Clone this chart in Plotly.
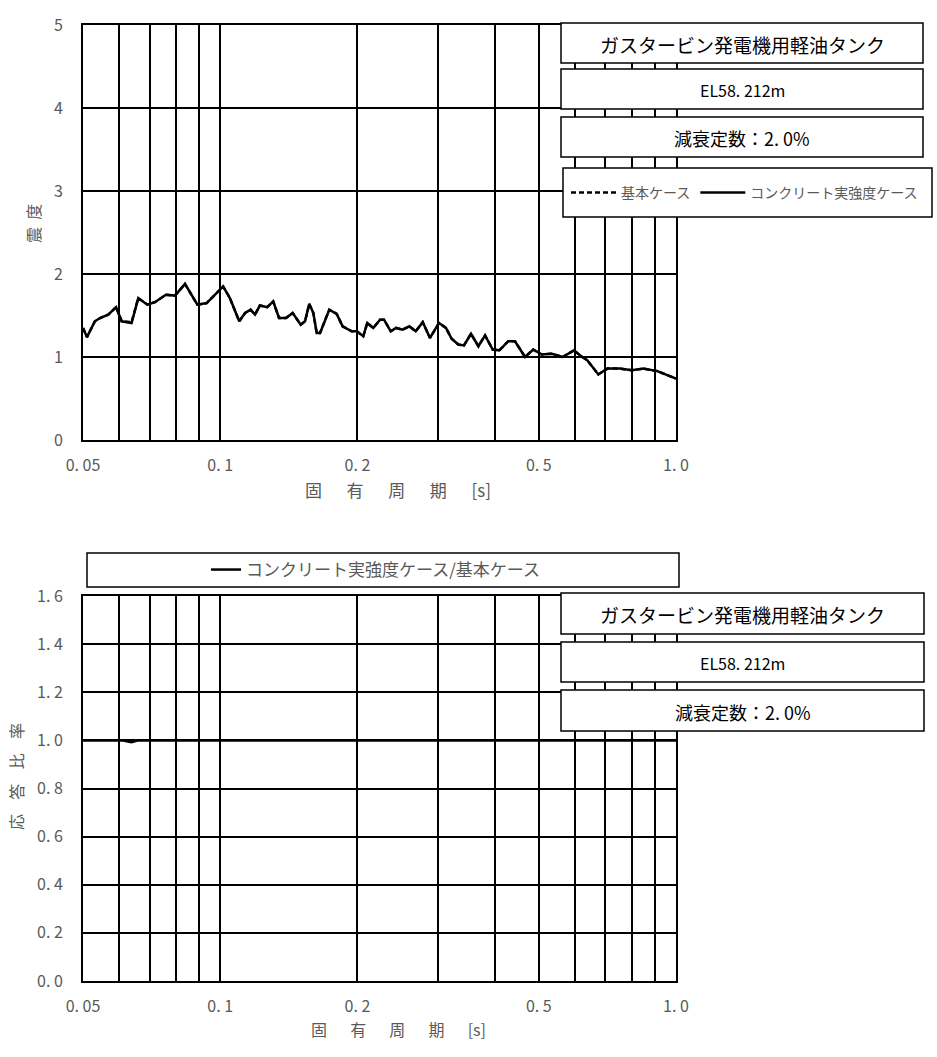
import plotly.graph_objects as go

# ---------------- data ----------------
periods = [0.0500, 0.0510, 0.0531, 0.0545, 0.0568, 0.0591, 0.0608, 0.0639, 0.0661, 0.0692,
           0.0719, 0.0760, 0.0796, 0.0837, 0.0891, 0.0934, 0.1015, 0.1050, 0.1101, 0.1134,
           0.1166, 0.1192, 0.1222, 0.1268, 0.1307, 0.1346, 0.1394, 0.1442, 0.1502, 0.1535,
           0.1568, 0.1601, 0.1628, 0.1656, 0.1735, 0.1801, 0.1856, 0.1943, 0.1993, 0.2060,
           0.2102, 0.2167, 0.2242, 0.2288, 0.2367, 0.2431, 0.2514, 0.2600, 0.2685, 0.2782,
           0.2886, 0.3020, 0.3128, 0.3219, 0.3329, 0.3426, 0.3550, 0.3685, 0.3811, 0.3962,
           0.4096, 0.4286, 0.4434, 0.4664, 0.4862, 0.5074, 0.5337, 0.5642, 0.5974, 0.6158,
           0.6390, 0.6753, 0.7068, 0.7538, 0.7995, 0.8479, 0.9099, 1.0000]

conc_values = [1.35, 1.24, 1.43, 1.47, 1.51, 1.60, 1.43, 1.41, 1.71, 1.63,
               1.66, 1.75, 1.74, 1.88, 1.63, 1.65, 1.85, 1.71, 1.43, 1.53,
               1.57, 1.51, 1.62, 1.60, 1.67, 1.47, 1.47, 1.53, 1.39, 1.43,
               1.64, 1.53, 1.29, 1.29, 1.57, 1.52, 1.37, 1.31, 1.31, 1.25,
               1.41, 1.35, 1.45, 1.45, 1.31, 1.35, 1.33, 1.37, 1.31, 1.42,
               1.23, 1.41, 1.35, 1.22, 1.15, 1.14, 1.28, 1.13, 1.26, 1.09,
               1.08, 1.19, 1.19, 1.00, 1.09, 1.03, 1.04, 1.00, 1.08, 1.02,
               0.96, 0.79, 0.86, 0.86, 0.84, 0.86, 0.83, 0.74]

base_values = [1.35, 1.24, 1.43, 1.47, 1.51, 1.60, 1.43, 1.42, 1.71, 1.63,
               1.66, 1.75, 1.74, 1.88, 1.63, 1.65, 1.85, 1.71, 1.43, 1.53,
               1.57, 1.51, 1.62, 1.60, 1.67, 1.47, 1.47, 1.53, 1.39, 1.43,
               1.64, 1.53, 1.29, 1.29, 1.57, 1.52, 1.37, 1.31, 1.31, 1.25,
               1.41, 1.35, 1.45, 1.45, 1.31, 1.35, 1.33, 1.37, 1.31, 1.42,
               1.23, 1.41, 1.35, 1.22, 1.15, 1.14, 1.28, 1.13, 1.26, 1.09,
               1.08, 1.19, 1.19, 1.00, 1.09, 1.03, 1.04, 1.00, 1.08, 1.02,
               0.96, 0.79, 0.86, 0.86, 0.84, 0.86, 0.83, 0.74]

ratio_values = [1.000, 1.000, 1.000, 1.000, 1.000, 1.000, 1.000, 0.992, 1.000, 1.000,
                1.000, 1.000, 1.000, 1.000, 1.000, 1.000, 1.000, 1.000, 1.000, 1.000,
                1.000, 1.000, 1.000, 1.000, 1.000, 1.000, 1.000, 1.000, 1.000, 1.000,
                1.000, 1.000, 1.000, 1.000, 1.000, 1.000, 1.000, 1.000, 1.000, 1.000,
                1.000, 1.000, 1.000, 1.000, 1.000, 1.000, 1.000, 1.000, 1.000, 1.000,
                1.000, 1.000, 1.000, 1.000, 1.000, 1.000, 1.000, 1.000, 1.000, 1.000,
                1.000, 1.000, 1.000, 1.000, 1.000, 1.000, 1.000, 1.000, 1.000, 1.000,
                1.000, 1.000, 1.000, 1.000, 1.000, 1.000, 1.000, 1.000]

x_tickvals = [0.05, 0.06, 0.07, 0.08, 0.09, 0.1, 0.2, 0.3, 0.4, 0.5, 0.6, 0.7, 0.8, 0.9, 1.0]
x_ticktext = ["0. 05", "", "", "", "", "0. 1", "0. 2", "", "", "0. 5", "", "", "", "", "1. 0"]
y1_tickvals = [0, 1, 2, 3, 4, 5]
y1_ticktext = ["0", "1", "2", "3", "4", "5"]
y2_tickvals = [0.0, 0.2, 0.4, 0.6, 0.8, 1.0, 1.2, 1.4, 1.6]
y2_ticktext = ["0. 0", "0. 2", "0. 4", "0. 6", "0. 8", "1. 0", "1. 2", "1. 4", "1. 6"]

title_lines = ["ガスタービン発電機用軽油タンク", "EL58. 212m", "減衰定数：2. 0%"]
title_sizes = [19, 16, 18]
name_base = "基本ケース"
name_conc = "コンクリート実強度ケース"
name_ratio = "コンクリート実強度ケース/基本ケース"

# ---------------- layout helpers ----------------
W, H = 937, 1057
def fx(p):
    return p / W
def fy(p):
    return 1 - p / H

FONT = "Noto Sans CJK JP"
GRAY = "#595959"
NBSP = "\u00a0"

fig = go.Figure()

fig.add_trace(go.Scatter(x=periods, y=base_values, mode="lines", name=name_base,
                         line=dict(color="black", width=2.5, dash="5px,3px"),
                         xaxis="x", yaxis="y", legend="legend"))
fig.add_trace(go.Scatter(x=periods, y=conc_values, mode="lines", name=name_conc,
                         line=dict(color="black", width=2.5),
                         xaxis="x", yaxis="y", legend="legend"))
fig.add_trace(go.Scatter(x=periods, y=ratio_values, mode="lines", name=name_ratio,
                         line=dict(color="black", width=2.5),
                         xaxis="x2", yaxis="y2", legend="legend2"))

xdom = [fx(83), fx(676)]
common_x = dict(type="log", range=[-1.30103, 0], tickvals=x_tickvals, ticktext=x_ticktext,
                showgrid=True, gridcolor="black", gridwidth=1.5, showline=True,
                linecolor="black", linewidth=2, mirror=True, ticks="",
                tickfont=dict(family=FONT, size=16, color=GRAY), ticklabelstandoff=10,
                zeroline=False, automargin=False)
common_y = dict(showgrid=True, gridcolor="black", gridwidth=1.5, showline=True,
                linecolor="black", linewidth=2, mirror=True, ticks="",
                tickfont=dict(family=FONT, size=16, color=GRAY), ticklabelstandoff=15,
                zeroline=False, automargin=False)

fig.update_layout(
    width=W, height=H,
    margin=dict(l=0, r=0, t=0, b=0, autoexpand=False),
    paper_bgcolor="white", plot_bgcolor="white",
    font=dict(family=FONT, color="black"),
    xaxis=dict(domain=xdom, anchor="y", **common_x),
    yaxis=dict(domain=[fy(440), fy(25)], anchor="x", range=[0, 5],
               tickvals=y1_tickvals, ticktext=y1_ticktext, **common_y),
    xaxis2=dict(domain=xdom, anchor="y2", **common_x),
    yaxis2=dict(domain=[fy(981), fy(596)], anchor="x2", range=[0, 1.6],
                tickvals=y2_tickvals, ticktext=y2_ticktext, **common_y),
    legend=dict(x=fx(566), y=fy(193), xanchor="left", yanchor="middle",
                orientation="h", bgcolor="rgba(0,0,0,0)", borderwidth=0,
                font=dict(family=FONT, size=14, color=GRAY), itemwidth=45,
                tracegroupgap=0),
    legend2=dict(x=fx(206), y=fy(570), xanchor="left", yanchor="middle",
                 orientation="h", bgcolor="rgba(0,0,0,0)", borderwidth=0,
                 font=dict(family=FONT, size=17, color=GRAY), itemwidth=30),
    showlegend=True,
)

shapes = []
annotations = []

def box(x0, y0, x1, y1):
    shapes.append(dict(type="rect", xref="paper", yref="paper",
                       x0=fx(x0), x1=fx(x1), y0=fy(y1), y1=fy(y0),
                       fillcolor="white", line=dict(color="black", width=1.5),
                       layer="above"))

def label(text, xc, yc, size, color="black"):
    annotations.append(dict(text=text, xref="paper", yref="paper", x=fx(xc), y=fy(yc),
                            xanchor="center", yanchor="middle", showarrow=False,
                            font=dict(family=FONT, size=size, color=color)))

# top chart info boxes
top_boxes = [(561, 23, 923, 63), (561, 69, 923, 109), (561, 117, 923, 157)]
for (b, t, s) in zip(top_boxes, title_lines, title_sizes):
    box(*b)
    label(t, (b[0] + b[2]) / 2, (b[1] + b[3]) / 2 + 1, s)
box(563, 168, 932, 217)  # legend frame

# bottom chart boxes
box(87, 553, 679, 587)  # legend frame
bot_boxes = [(561, 593, 924, 634), (561, 642, 924, 682), (561, 690, 924, 731)]
for (b, t, s) in zip(bot_boxes, title_lines, title_sizes):
    box(*b)
    label(t, (b[0] + b[2]) / 2, (b[1] + b[3]) / 2 + 1, s)

# axis titles
xtitle = ("\u3000" + NBSP * 2).join(["固", "有", "周", "期", "[s]"])
label(xtitle, 398, 490, 17, GRAY)
label(xtitle, 398, 1029, 16, GRAY)

annotations.append(dict(text=(NBSP * 2).join(["震", "度"]), xref="paper", yref="paper",
                        x=fx(33), y=fy(224), xanchor="center", yanchor="middle",
                        showarrow=False, textangle=-90,
                        font=dict(family=FONT, size=16, color=GRAY)))
annotations.append(dict(text=(NBSP * 4).join(["応", "答", "比", "率"]), xref="paper",
                        yref="paper", x=fx(16), y=fy(777), xanchor="center",
                        yanchor="middle", showarrow=False, textangle=-90,
                        font=dict(family=FONT, size=16, color=GRAY)))

fig.update_layout(shapes=shapes, annotations=annotations)

fig.write_html("out.html", config={"displayModeBar": False},
               post_script="document.body.style.margin='0';document.body.style.overflow='hidden';")
